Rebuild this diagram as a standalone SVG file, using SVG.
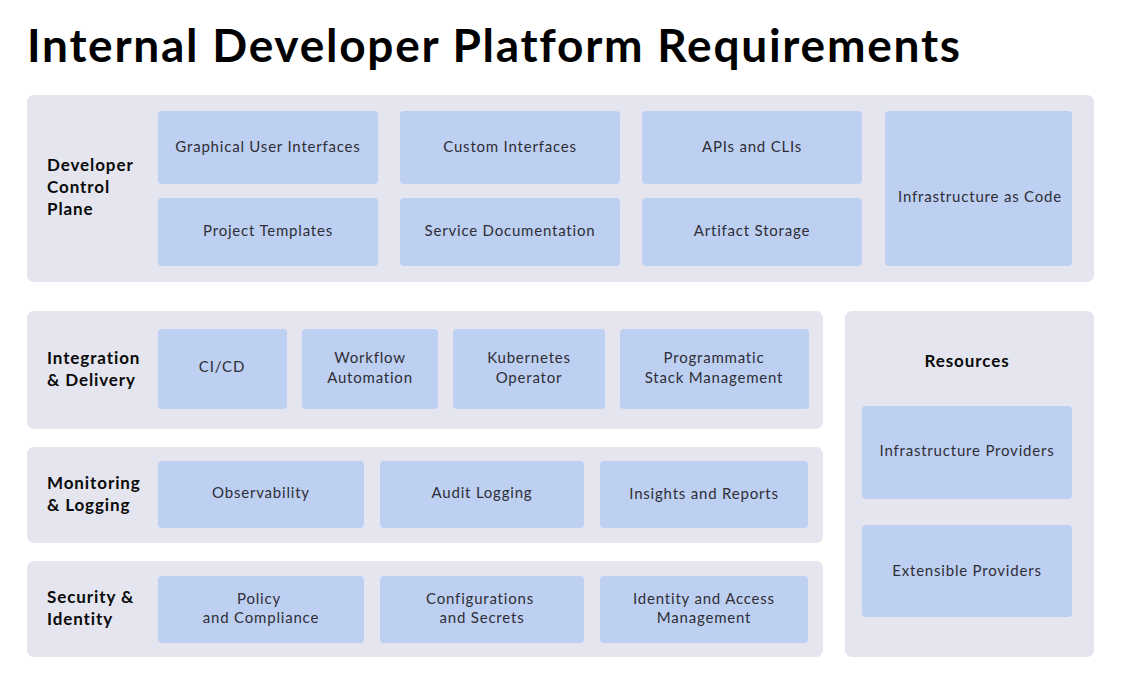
<svg xmlns="http://www.w3.org/2000/svg" width="1122" height="679" viewBox="0 0 1122 679">
<style>
.panel{fill:#e4e5ee}
.box{fill:#bed0f2}
.t{font-family:Lato,"Liberation Sans",sans-serif;font-size:15px;letter-spacing:0.8px;fill:#2e2e36;text-anchor:middle}
.h{font-family:Lato,"Liberation Sans",sans-serif;font-size:17px;font-weight:700;letter-spacing:0.9px;fill:#0a0a0a}
.title{font-family:Lato,"Liberation Sans",sans-serif;font-size:46px;font-weight:700;letter-spacing:1.75px;fill:#000}
</style>
<rect width="1122" height="679" fill="#fff"/>
<text class="title" x="27" y="62">Internal Developer Platform Requirements</text>

<g id="dcp">
<rect class="panel" x="27" y="95" width="1067" height="187" rx="7"/>
<text class="h" x="47" y="171">Developer</text>
<text class="h" x="47" y="193">Control</text>
<text class="h" x="47" y="215">Plane</text>
</g>
<g id="gui"><rect class="box" x="158" y="111" width="220" height="73" rx="4"/><text class="t" x="268" y="152">Graphical User Interfaces</text></g>
<g id="custom"><rect class="box" x="400" y="111" width="220" height="73" rx="4"/><text class="t" x="510" y="152">Custom Interfaces</text></g>
<g id="apis"><rect class="box" x="642" y="111" width="220" height="73" rx="4"/><text class="t" x="752" y="152">APIs and CLIs</text></g>
<g id="templates"><rect class="box" x="158" y="198" width="220" height="68" rx="4"/><text class="t" x="268" y="236">Project Templates</text></g>
<g id="docs"><rect class="box" x="400" y="198" width="220" height="68" rx="4"/><text class="t" x="510" y="236">Service Documentation</text></g>
<g id="artifact"><rect class="box" x="642" y="198" width="220" height="68" rx="4"/><text class="t" x="752" y="236">Artifact Storage</text></g>
<g id="iac"><rect class="box" x="885" y="111" width="187" height="155" rx="4"/><text class="t" x="980" y="202">Infrastructure as Code</text></g>

<g id="integration">
<rect class="panel" x="27" y="311" width="796" height="118" rx="7"/>
<text class="h" x="47" y="364">Integration</text>
<text class="h" x="47" y="386">&amp; Delivery</text>
</g>
<g id="cicd"><rect class="box" x="158" y="329" width="129" height="80" rx="4"/><text class="t" x="222" y="372">CI/CD</text></g>
<g id="workflow"><rect class="box" x="302" y="329" width="136" height="80" rx="4"/><text class="t" x="370" y="363">Workflow</text><text class="t" x="370" y="383">Automation</text></g>
<g id="k8s"><rect class="box" x="453" y="329" width="152" height="80" rx="4"/><text class="t" x="529" y="363">Kubernetes</text><text class="t" x="529" y="383">Operator</text></g>
<g id="stack"><rect class="box" x="620" y="329" width="189" height="80" rx="4"/><text class="t" x="714" y="363">Programmatic</text><text class="t" x="714" y="383">Stack Management</text></g>

<g id="monitoring">
<rect class="panel" x="27" y="447" width="796" height="96" rx="7"/>
<text class="h" x="47" y="489">Monitoring</text>
<text class="h" x="47" y="511">&amp; Logging</text>
</g>
<g id="observability"><rect class="box" x="158" y="461" width="206" height="67" rx="4"/><text class="t" x="261" y="498">Observability</text></g>
<g id="audit"><rect class="box" x="380" y="461" width="204" height="67" rx="4"/><text class="t" x="482" y="498">Audit Logging</text></g>
<g id="insights"><rect class="box" x="600" y="461" width="208" height="67" rx="4"/><text class="t" x="704" y="499">Insights and Reports</text></g>

<g id="security">
<rect class="panel" x="27" y="561" width="796" height="96" rx="7"/>
<text class="h" x="47" y="603">Security &amp;</text>
<text class="h" x="47" y="625">Identity</text>
</g>
<g id="policy"><rect class="box" x="158" y="576" width="206" height="67" rx="4"/><text class="t" x="259" y="604">Policy</text><text class="t" x="261" y="623">and Compliance</text></g>
<g id="config"><rect class="box" x="380" y="576" width="204" height="67" rx="4"/><text class="t" x="480" y="604">Configurations</text><text class="t" x="482" y="623">and Secrets</text></g>
<g id="iam"><rect class="box" x="600" y="576" width="208" height="67" rx="4"/><text class="t" x="704" y="604">Identity and Access</text><text class="t" x="704" y="623">Management</text></g>

<g id="resources">
<rect class="panel" x="845" y="311" width="249" height="346" rx="7"/>
<text class="h" x="967" y="367" text-anchor="middle">Resources</text>
</g>
<g id="infraproviders"><rect class="box" x="862" y="406" width="210" height="93" rx="4"/><text class="t" x="967" y="456">Infrastructure Providers</text></g>
<g id="extproviders"><rect class="box" x="862" y="525" width="210" height="92" rx="4"/><text class="t" x="967" y="576">Extensible Providers</text></g>

<g id="connectors"/>
</svg>
